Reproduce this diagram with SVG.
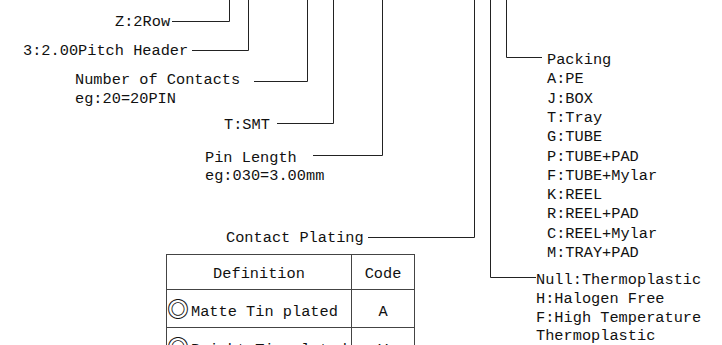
<svg xmlns="http://www.w3.org/2000/svg" width="722" height="345" viewBox="0 0 722 345">
<style>
text{font-family:"Liberation Mono","Noto Sans CJK SC",monospace;font-size:15.3px;fill:#111}
.c{text-anchor:middle}
.ln{fill:none;stroke:#222;stroke-width:1}
.tb{fill:none;stroke:#444;stroke-width:1}
.sym{font-family:"Noto Sans CJK SC",sans-serif;font-size:22px;font-weight:bold}
</style>
<rect width="722" height="345" fill="#fff"/>
<g id="connectors">
<polyline class="ln" points="172,21.5 229.5,21.5 229.5,0"/>
<polyline class="ln" points="192,50.5 248.5,50.5 248.5,0"/>
<polyline class="ln" points="254,81.5 307.5,81.5 307.5,0"/>
<polyline class="ln" points="277,123.5 333.5,123.5 333.5,0"/>
<polyline class="ln" points="313,155.5 382.5,155.5 382.5,0"/>
<polyline class="ln" points="368,237.5 474.5,237.5 474.5,0"/>
<polyline class="ln" points="536,277.5 490.5,277.5 490.5,0"/>
<polyline class="ln" points="542,57.5 506.5,57.5 506.5,0"/>
</g>
<g id="row"><text x="115" y="26">Z:2Row</text></g>
<g id="pitch"><text x="23" y="55">3:2.00Pitch Header</text></g>
<g id="contacts"><text x="75" y="84">Number of Contacts</text><text x="75" y="103">eg:20=20PIN</text></g>
<g id="smt"><text x="224" y="129">T:SMT</text></g>
<g id="pinlength"><text x="205" y="162">Pin Length</text><text x="205" y="180">eg:030=3.00mm</text></g>
<g id="plating"><text x="226" y="242">Contact Plating</text></g>
<g id="packing">
<text x="547" y="64">Packing</text>
<text x="547" y="83.3">A:PE</text>
<text x="547" y="102.6">J:BOX</text>
<text x="547" y="121.9">T:Tray</text>
<text x="547" y="141.2">G:TUBE</text>
<text x="547" y="160.5">P:TUBE+PAD</text>
<text x="547" y="179.8">F:TUBE+Mylar</text>
<text x="547" y="199.1">K:REEL</text>
<text x="547" y="218.4">R:REEL+PAD</text>
<text x="547" y="237.7">C:REEL+Mylar</text>
<text x="547" y="257">M:TRAY+PAD</text>
</g>
<g id="material">
<text x="536" y="284">Null:Thermoplastic</text>
<text x="536" y="303">H:Halogen Free</text>
<text x="536" y="321.5">F:High Temperature</text>
<text x="536" y="340">Thermoplastic</text>
</g>
<g id="plating-table">
<rect class="tb" x="166.5" y="254.5" width="248" height="120"/>
<line class="tb" x1="351.5" y1="254.5" x2="351.5" y2="345"/>
<line class="tb" x1="166.5" y1="289.5" x2="414.5" y2="289.5"/>
<line class="tb" x1="166.5" y1="327.5" x2="414.5" y2="327.5"/>
<text class="c" x="259" y="278">Definition</text>
<text class="c" x="383" y="278">Code</text>
<text x="167" y="317"><tspan class="sym">◎</tspan><tspan x="191" y="316">Matte Tin plated</tspan></text>
<text class="c" x="383" y="316">A</text>
<text x="167" y="355"><tspan class="sym">◎</tspan><tspan x="191" y="354">Bright Tin plated</tspan></text>
<text class="c" x="383" y="354">V</text>
</g>
</svg>
